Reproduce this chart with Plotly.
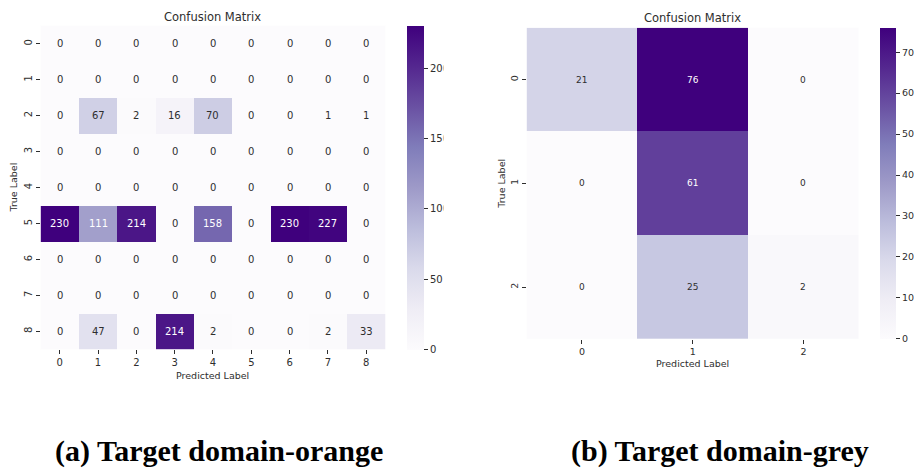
import plotly.graph_objects as go
from plotly.colors import sample_colorscale

# Confusion matrices (rows = true label, columns = predicted label)
labels_orange = [0, 1, 2, 3, 4, 5, 6, 7, 8]
cm_orange = [
    [0, 0, 0, 0, 0, 0, 0, 0, 0],
    [0, 0, 0, 0, 0, 0, 0, 0, 0],
    [0, 67, 2, 16, 70, 0, 0, 1, 1],
    [0, 0, 0, 0, 0, 0, 0, 0, 0],
    [0, 0, 0, 0, 0, 0, 0, 0, 0],
    [230, 111, 214, 0, 158, 0, 230, 227, 0],
    [0, 0, 0, 0, 0, 0, 0, 0, 0],
    [0, 0, 0, 0, 0, 0, 0, 0, 0],
    [0, 47, 0, 214, 2, 0, 0, 2, 33],
]

labels_grey = [0, 1, 2]
cm_grey = [
    [21, 76, 0],
    [0, 61, 0],
    [0, 25, 2],
]

captions = ["(a) Target domain-orange", "(b) Target domain-grey"]

W, H = 914, 468
FONT = "DejaVu Sans"
DARK = "#2e2e2e"
CSCALE = "Purples"


def px_x(v):
    return v / W


def px_y(v):
    return 1 - v / H


def rel_lum(rgb_str):
    vals = [float(c) / 255 for c in rgb_str[rgb_str.index("(") + 1:-1].split(",")]
    lin = [c / 12.92 if c <= 0.03928 else ((c + 0.055) / 1.055) ** 2.4 for c in vals]
    return 0.2126 * lin[0] + 0.7152 * lin[1] + 0.0722 * lin[2]


def paper_text(x, y, text, size, family=FONT, color=DARK, angle=0, weight="normal"):
    return dict(x=px_x(x), y=px_y(y), xref="paper", yref="paper",
                xanchor="center", yanchor="middle", text=text, textangle=angle,
                showarrow=False,
                font=dict(family=family, size=size, color=color, weight=weight))


fig = go.Figure()

panels = [
    dict(cm=cm_orange, labels=labels_orange, xs=(40.7, 386.7), ys=(25.8, 349.3),
         cb_x=408.3, cb_th=16.7, dtick=50, val_size=10, tick_size=10,
         xa="x", ya="y", xkey="xaxis", ykey="yaxis",
         title_y=17, xtitle_y=375, ytitle_x=14, caption_x=220),
    dict(cm=cm_grey, labels=labels_grey, xs=(528.3, 861.7), ys=(27.7, 339.0),
         cb_x=882.7, cb_th=15.6, dtick=10, val_size=9, tick_size=9.5,
         xa="x2", ya="y2", xkey="xaxis2", ykey="yaxis2",
         title_y=18, xtitle_y=363, ytitle_x=503, caption_x=722),
]

annotations = []
for i, p in enumerate(panels):
    cm = p["cm"]
    labs = p["labels"]
    zmax = max(max(r) for r in cm)
    x0, x1 = p["xs"]
    y0, y1 = p["ys"]

    fig.add_trace(go.Heatmap(
        z=cm, x=labs, y=labs, zmin=0, zmax=zmax, colorscale=CSCALE,
        xaxis=p["xa"], yaxis=p["ya"], hoverinfo="skip",
        colorbar=dict(
            x=px_x(p["cb_x"]), xanchor="left", xpad=0,
            y=px_y(y0), yanchor="top", ypad=0,
            len=(y1 - y0) / H, lenmode="fraction",
            thickness=p["cb_th"], thicknessmode="pixels",
            outlinewidth=0, ticks="outside", ticklen=4.5, tickwidth=1,
            tickcolor=DARK, tick0=0, dtick=p["dtick"],
            tickfont=dict(family=FONT, size=p["tick_size"], color=DARK),
        ),
    ))

    axis_common = dict(showgrid=False, zeroline=False, showline=False,
                       ticks="outside", ticklen=3.5, tickwidth=1, tickcolor=DARK,
                       tickfont=dict(family=FONT, size=p["tick_size"], color=DARK),
                       tickvals=labs, ticktext=[str(v) for v in labs])
    n = len(labs)
    fig.update_layout({
        p["xkey"]: dict(domain=[px_x(x0), px_x(x1)], range=[-0.5, n - 0.5],
                        anchor=p["ya"], **axis_common),
        p["ykey"]: dict(domain=[px_y(y1), px_y(y0)], range=[n - 0.5, -0.5],
                        anchor=p["xa"], tickangle=-90, **axis_common),
    })

    # cell value labels, light text on dark cells like seaborn
    for r, row in enumerate(cm):
        for c, v in enumerate(row):
            col = sample_colorscale(CSCALE, [v / zmax])[0]
            txt_col = "white" if rel_lum(col) <= 0.408 else DARK
            annotations.append(dict(
                x=labs[c], y=labs[r], xref=p["xa"], yref=p["ya"], text=str(v),
                xanchor="center", yanchor="middle", showarrow=False,
                font=dict(family=FONT, size=p["val_size"], color=txt_col)))

    cxp = (x0 + x1) / 2
    annotations += [
        paper_text(cxp, p["title_y"], "Confusion Matrix", 11.5),
        paper_text(cxp, p["xtitle_y"], "Predicted Label", 9.5),
        paper_text(p["ytitle_x"], (y0 + y1) / 2, "True Label", 9.5, angle=-90),
        paper_text(p["caption_x"], 451, captions[i], 30,
                   family="Liberation Serif", color="black", weight="bold"),
    ]

# the left panel's colorbar labels are cut at the panel edge
annotations.append(dict(x=px_x(444), y=px_y(190), xref="paper", yref="paper",
                        xanchor="left", yanchor="middle", text=" ", showarrow=False,
                        width=22, height=360, bgcolor="white", borderpad=0))

fig.update_layout(
    width=W, height=H, margin=dict(l=0, r=0, t=0, b=0),
    paper_bgcolor="white", plot_bgcolor="white",
    annotations=annotations, showlegend=False,
)

fig.write_html("out.html")
